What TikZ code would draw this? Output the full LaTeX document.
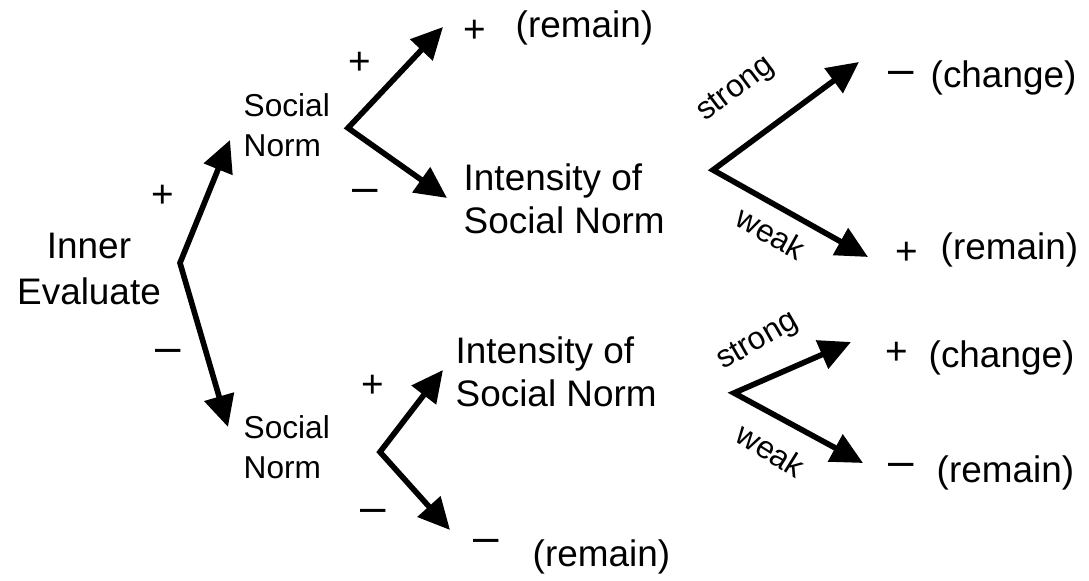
\documentclass[tikz,border=0pt]{standalone}
\usepackage{fontspec}
\setmainfont{Liberation Sans}
\usepackage{tikz}
\usetikzlibrary{arrows.meta, positioning}
\tikzset{
  evalbox/.style={
    align=center, inner sep=0pt,
    font=\fontsize{10.5}{13}\selectfont
  },
  normbox/.style={
    align=left, anchor=west, inner sep=0pt,
    font=\fontsize{9}{11.4}\selectfont
  },
  intensitybox/.style={
    align=left, anchor=west, inner sep=0pt,
    font=\fontsize{10.5}{12.4}\selectfont
  },
  pluslabel/.style={
    inner sep=0pt, text height=0.7em, text depth=0pt,
    font=\fontsize{11}{12}\selectfont
  },
  minuslabel/.style={
    inner sep=0pt, text height=0.55em, text depth=0pt,
    font=\fontsize{13}{14}\selectfont
  },
  outcomelabel/.style={
    anchor=west, inner sep=0pt, font=\fontsize{10.5}{12}\selectfont
  },
  branchlabel/.style={
    inner sep=0pt, font=\fontsize{9}{11}\selectfont
  },
  forkarrow/.style={
    {Triangle[length=9pt, width=8.5pt]}-{Triangle[length=9pt, width=8.5pt]},
    line width=1.6pt, line join=miter
  },
}

\begin{document}
\begin{tikzpicture}
  \useasboundingbox (0, 0) rectangle (10.89, 5.81);

  % ---- Root: Inner Evaluate ----
  \node[evalbox] (inner) at (0.89, 3.12) {Inner\\Evaluate};
  \coordinate (fork0) at (1.80, 3.18);
  \coordinate (fork0up) at (2.30, 4.41);
  \coordinate (fork0dn) at (2.28, 1.54);
  \draw[forkarrow] (fork0up) -- (fork0) -- (fork0dn);
  \node[pluslabel] (sign0p) at (1.63, 3.86) {+};
  \node[minuslabel] (sign0m) at (1.68, 2.28) {–};

  % ---- Upper branch: Social Norm ----
  \node[normbox] (normtop) at (2.43, 4.56) {Social\\Norm};
  \coordinate (fork1) at (3.48, 4.53);
  \coordinate (fork1up) at (4.43, 5.54);
  \coordinate (fork1dn) at (4.47, 3.83);
  \draw[forkarrow] (fork1up) -- (fork1) -- (fork1dn);
  \node[pluslabel] (sign1p) at (3.60, 5.19) {+};
  \node[minuslabel] (sign1m) at (3.65, 3.88) {–};

  % remain (top)
  \node[pluslabel] (out1s) at (4.75, 5.51) {+};
  \node[outcomelabel] (out1) at (5.15, 5.535) {(remain)};

  % Intensity (top)
  \node[intensitybox] (inttop) at (4.63, 3.82) {Intensity of\\Social Norm};
  \coordinate (fork2) at (7.13, 4.11);
  \coordinate (fork2up) at (8.59, 5.19);
  \coordinate (fork2dn) at (8.68, 3.24);
  \draw[forkarrow] (fork2up) -- (fork2) -- (fork2dn);
  \node[branchlabel, rotate=37] (strong2) at (7.36, 4.91) {strong};
  \node[branchlabel, rotate=-29] (weak2) at (7.71, 3.48) {weak};

  \node[minuslabel] (out2s) at (9.01, 5.06) {–};
  \node[outcomelabel] (out2) at (9.30, 5.03) {(change)};
  \node[pluslabel] (out3s) at (9.07, 3.29) {+};
  \node[outcomelabel] (out3) at (9.40, 3.31) {(remain)};

  % ---- Lower branch: Social Norm ----
  \node[normbox] (normbot) at (2.43, 1.34) {Social\\Norm};
  \coordinate (fork3) at (3.80, 1.29);
  \coordinate (fork3up) at (4.43, 2.11);
  \coordinate (fork3dn) at (4.50, 0.51);
  \draw[forkarrow] (fork3up) -- (fork3) -- (fork3dn);
  \node[pluslabel] (sign3p) at (3.73, 1.96) {+};
  \node[minuslabel] (sign3m) at (3.73, 0.68) {–};

  % remain (bottom)
  \node[minuslabel] (out4s) at (4.86, 0.38) {–};
  \node[outcomelabel] (out4) at (5.32, 0.24) {(remain)};

  % Intensity (bottom)
  \node[intensitybox] (intbot) at (4.55, 2.09) {Intensity of\\Social Norm};
  \coordinate (fork4) at (7.34, 1.88);
  \coordinate (fork4up) at (8.51, 2.39);
  \coordinate (fork4dn) at (8.63, 1.18);
  \draw[forkarrow] (fork4up) -- (fork4) -- (fork4dn);
  \node[branchlabel, rotate=30] (strong4) at (7.58, 2.39) {strong};
  \node[branchlabel, rotate=-32] (weak4) at (7.71, 1.31) {weak};

  \node[pluslabel] (out5s) at (8.97, 2.29) {+};
  \node[outcomelabel] (out5) at (9.28, 2.23) {(change)};
  \node[minuslabel] (out6s) at (9.01, 1.14) {–};
  \node[outcomelabel] (out6) at (9.36, 1.08) {(remain)};
\end{tikzpicture}
\end{document}
